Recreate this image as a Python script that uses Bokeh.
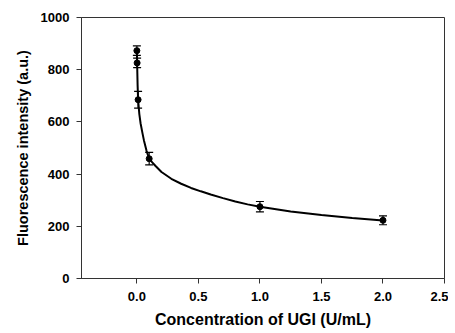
from bokeh.plotting import figure
from bokeh.models import ColumnDataSource, Whisker, TeeHead, FixedTicker, NumeralTickFormatter, Range1d
from bokeh.embed import file_html
from bokeh.resources import INLINE

# measured points
conc = [0.0, 0.002, 0.01, 0.1, 1.0, 2.0]
intensity = [873, 826, 685, 459, 275, 223]
err = [18, 18, 32, 24, 20, 17]

# fitted curve
curve_x = [0.0, 0.002, 0.006, 0.01, 0.02, 0.03, 0.045, 0.057, 0.078, 0.1, 0.125, 0.15, 0.2, 0.28, 0.36, 0.44, 0.52, 0.6, 0.7, 0.8, 0.9, 1.0, 1.25, 1.5, 1.75, 2.0]
curve_y = [873, 826, 740, 685, 630, 595, 558, 530, 490, 459, 445, 432, 408, 382, 363, 347, 334, 322, 308, 295, 284, 275, 257, 243, 232, 222]

x_ticks = [0.0, 0.5, 1.0, 1.5, 2.0, 2.5]
y_ticks = [0, 200, 400, 600, 800, 1000]

FONT = "Liberation Sans"

p = figure(output_backend="svg", toolbar_location=None,
           x_range=Range1d(-0.45, 2.5), y_range=Range1d(0, 1000),
           frame_width=363, frame_height=261,
           min_border_left=81, min_border_right=4, min_border_top=17, min_border_bottom=10)

p.line(curve_x, curve_y, line_color="black", line_width=2)

src = ColumnDataSource(dict(x=conc, y=intensity,
                            upper=[v + e for v, e in zip(intensity, err)],
                            lower=[v - e for v, e in zip(intensity, err)]))
w = Whisker(source=src, base="x", upper="upper", lower="lower",
            line_color="black", line_width=1.2,
            upper_head=TeeHead(size=8, line_color="black", line_width=1.2),
            lower_head=TeeHead(size=8, line_color="black", line_width=1.2))
p.add_layout(w)
p.scatter("x", "y", source=src, size=6, color="black")

p.xgrid.visible = False
p.ygrid.visible = False
p.outline_line_color = "#333333"
p.outline_line_width = 1

for ax in (p.xaxis[0], p.yaxis[0]):
    ax.axis_line_color = "#333333"
    ax.major_tick_line_color = "#333333"
    ax.major_tick_in = 0
    ax.major_tick_out = 5
    ax.minor_tick_line_color = None
    ax.major_label_text_font = FONT
    ax.major_label_text_font_style = "bold"
    ax.major_label_text_font_size = "13px"
    ax.major_label_text_color = "black"
    ax.axis_label_text_font = FONT
    ax.axis_label_text_font_style = "bold"
    ax.axis_label_text_color = "black"

p.xaxis[0].ticker = FixedTicker(ticks=x_ticks)
p.xaxis[0].formatter = NumeralTickFormatter(format="0.0")
p.xaxis[0].axis_label = "Concentration of UGI (U/mL)"
p.xaxis[0].axis_label_text_font_size = "16px"
p.xaxis[0].major_label_standoff = 8
p.xaxis[0].axis_label_standoff = 7

p.yaxis[0].ticker = FixedTicker(ticks=y_ticks)
p.yaxis[0].axis_label = "Fluorescence intensity (a.u.)"
p.yaxis[0].axis_label_text_font_size = "14.5px"
p.yaxis[0].major_label_standoff = 7
p.yaxis[0].axis_label_standoff = 7

open("out.html", "w").write(file_html(p, INLINE))
